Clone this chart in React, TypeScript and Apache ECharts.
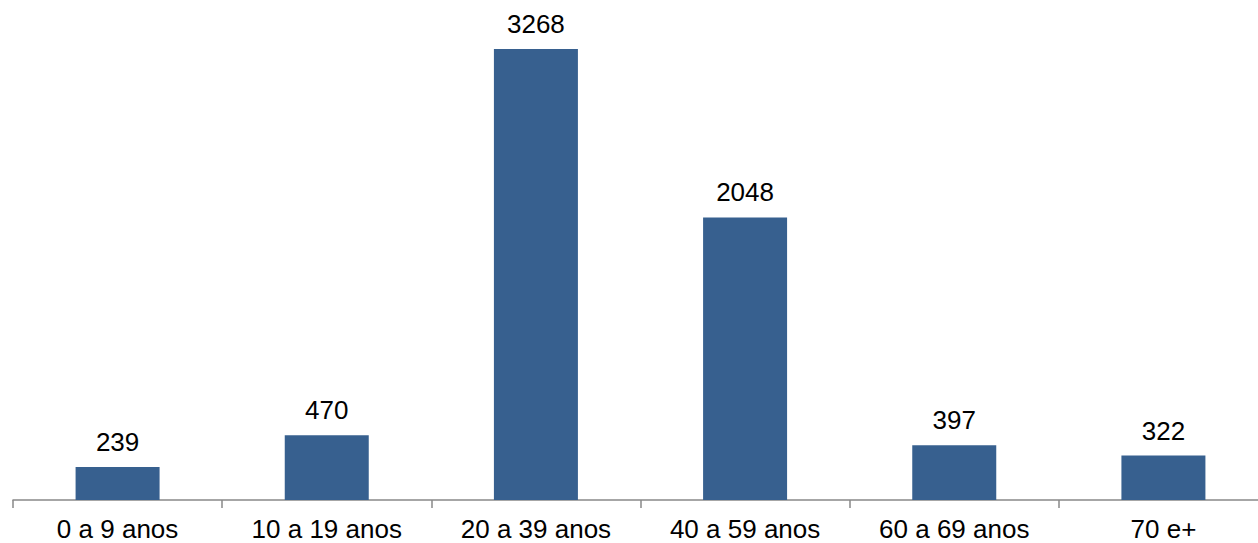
import React, { useEffect, useRef } from "react";
import * as echarts from "echarts";

const categories = ["0 a 9 anos", "10 a 19 anos", "20 a 39 anos", "40 a 59 anos", "60 a 69 anos", "70 e+"];
const values = [239, 470, 3268, 2048, 397, 322];

export default function App() {
  const ref = useRef<HTMLDivElement>(null);
  useEffect(() => {
    const chart = echarts.init(ref.current!, null, { renderer: "svg" });
    chart.setOption({
      animation: false,
      grid: { left: 13, right: 0, top: 17, bottom: 43, containLabel: false },
      xAxis: {
        type: "category",
        data: categories,
        axisLine: { lineStyle: { color: "#898989", width: 1.5 } },
        axisTick: { show: true, length: 8, lineStyle: { color: "#898989", width: 1.5 } },
        axisLabel: { color: "#000", fontSize: 26, fontFamily: "Liberation Sans, Arial", margin: 16 },
      },
      yAxis: { type: "value", min: 0, max: 3500, show: false, splitLine: { show: false } },
      series: [
        {
          type: "bar",
          data: values,
          barWidth: 84,
          itemStyle: { color: "#37608F" },
          label: { show: true, position: "top", distance: 12, color: "#000", fontSize: 26, fontFamily: "Liberation Sans, Arial" },
        },
      ],
    });
    return () => chart.dispose();
  }, []);
  return (
    <div style={{ position: "absolute", left: 0, top: 0, width: 1258, height: 543, overflow: "hidden" }}>
      <div ref={ref} style={{ width: 1268, height: 543 }} />
    </div>
  );
}
